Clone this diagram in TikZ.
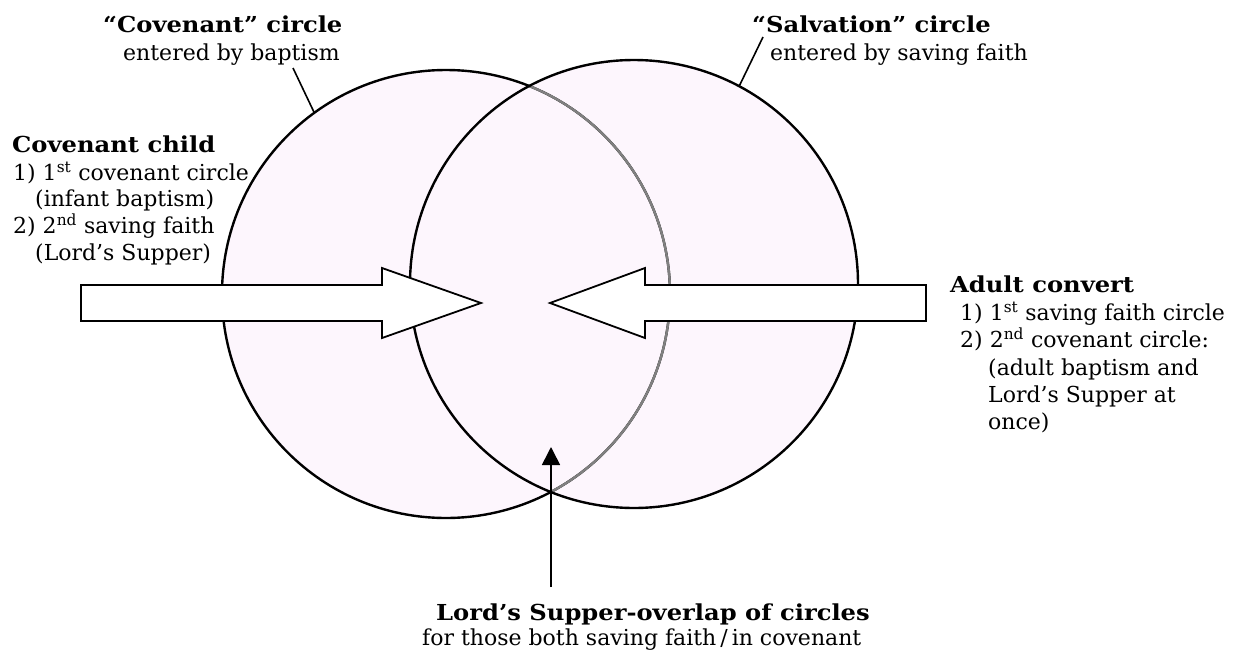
\documentclass[tikz,border=0pt]{standalone}
\usepackage{fontspec}
\setmainfont{DejaVu Serif}[BoldFeatures={FakeStretch=1.1}]
\usetikzlibrary{arrows.meta,positioning}
\definecolor{circfill}{RGB}{253,246,253}

\begin{document}
\begin{tikzpicture}[x=1pt,y=-1pt,
  font=\fontsize{22}{27}\selectfont,
  ring/.style={circle,minimum size=448pt,inner sep=0pt,fill=circfill},
  rim/.style={line width=2.4pt},
  txt/.style={inner sep=0pt,anchor=base west},
  blockarr/.style={draw,line width=1.8pt,fill=white,line join=miter},
  ptr/.style={line width=1.6pt},
  arr/.style={-{Triangle[width=18pt,length=18pt]},line width=1.6pt}
]
\useasboundingbox (0,0) rectangle (1240,651);
% the two circles
\node[ring] (cov) at (446,294) {};
\node[ring] (sal) at (634,284) {};
\draw[rim] (cov.center) circle[radius=224pt];
\begin{scope}
  \clip (sal.center) circle[radius=224pt];
  \draw[rim,gray] (cov.center) circle[radius=224pt];
\end{scope}
\draw[rim] (sal.center) circle[radius=224pt];
% block arrows
\draw[blockarr] (81,285) -- (382,285) -- (382,268) -- (481,303)
  -- (382,338) -- (382,321) -- (81,321) -- cycle;
\draw[blockarr] (926,285) -- (645,285) -- (645,268) -- (550,303)
  -- (645,338) -- (645,321) -- (926,321) -- cycle;
% circle titles
\node[txt] (covtitle) at (103,32) {\textbf{“Covenant” circle}};
\node[txt] (covsub) at (123,60) {entered by baptism};
\node[txt] (saltitle) at (752,32) {\textbf{“Salvation” circle}};
\node[txt] (salsub) at (770,60) {entered by saving faith};
\coordinate (covptr) at (293,68);
\coordinate (salptr) at (763,37);
\draw[ptr] (covptr) -- (cov.126);
\draw[ptr] (salptr) -- (sal.62);
% covenant child
\node[txt] (child) at (12,152) {\textbf{Covenant child}};
\node[txt] (child1) at (13,180) {1) 1\textsuperscript{st} covenant circle};
\node[txt] (child2) at (35,206) {(infant baptism)};
\node[txt] (child3) at (13,233) {2) 2\textsuperscript{nd} saving faith};
\node[txt] (child4) at (35,260) {(Lord’s Supper)};
% adult convert
\node[txt] (adult) at (950,292) {\textbf{Adult convert}};
\node[txt] (adult1) at (960,320) {1) 1\textsuperscript{st} saving faith circle};
\node[txt] (adult2) at (960,347) {2) 2\textsuperscript{nd} covenant circle:};
\node[txt] (adult3) at (988,375) {(adult baptism and};
\node[txt] (adult4) at (988,402) {Lord’s Supper at};
\node[txt] (adult5) at (988,429) {once)};
% overlap
\coordinate (overlap) at (551,447);
\coordinate (overlapfoot) at (551,587);
\draw[arr] (overlapfoot) -- (overlap);
\node[txt] (lstitle) at (436,620) {\textbf{Lord’s Supper-overlap of circles}};
\node[txt] (lssub) at (422,645) {for those both saving faith\hspace{4pt}/\hspace{4pt}in covenant};
\end{tikzpicture}
\end{document}
